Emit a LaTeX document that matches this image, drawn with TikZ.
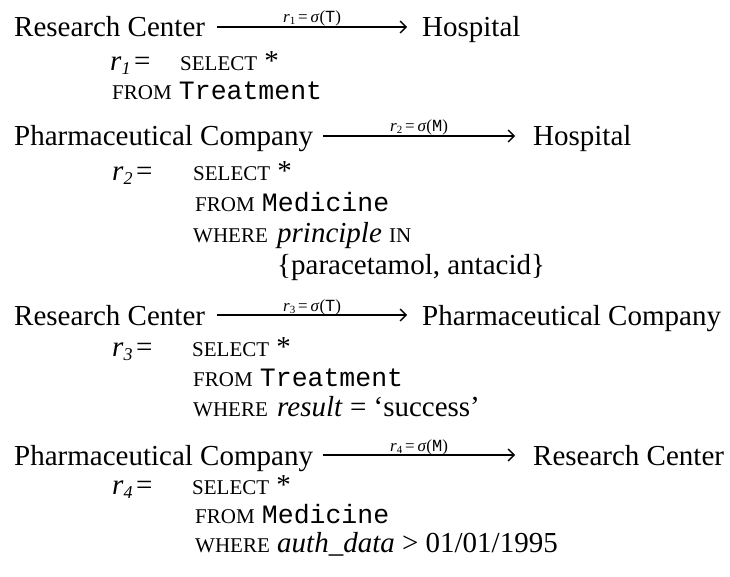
\documentclass[tikz,border=0pt]{standalone}
\usepackage{fontspec}
\setmainfont{Liberation Serif}
\newfontfamily\monof{Liberation Mono}
\usetikzlibrary{arrows.meta}
\newcommand\kw[1]{{\fontsize{21}{21}\selectfont #1}}
\newcommand\mono[1]{{\monof\fontsize{26.5}{26.5}\selectfont #1}}
\newcommand\rsub[1]{\textit{r}\raisebox{-4pt}{\fontsize{18}{18}\selectfont\textit{#1}}}
\newcommand\lab[2]{{\fontsize{17}{17}\selectfont\textit{r}\raisebox{-2pt}{\fontsize{11}{11}\selectfont #1}\,=\,\textit{σ}({\monof #2})}}
\begin{document}
\begin{tikzpicture}[x=1pt,y=-1pt,
  txt/.style={anchor=base west, inner sep=0pt, font=\fontsize{29}{29}\selectfont},
  conn/.style={line width=1.3pt, -{Straight Barb[length=6pt,width=12pt,line width=1.3pt]}},
  lbl/.style={anchor=base, inner sep=0pt, yshift=4pt}]
\useasboundingbox (0,0) rectangle (730,577);
% ---- block 1
\node[txt] (h1a) at (14,37) {Research Center};
\node[txt] (h1b) at (422,37) {Hospital};
\draw[conn] ([xshift=12pt,yshift=10pt]h1a.base east) -- node[lbl] (l1) {\lab{1}{T}} ([xshift=-15pt,yshift=10pt]h1b.base west);
\node[txt] (r1) at (110,71) {\rsub{1}};
\node[txt] (e1) at (134,71) {=};
\node[txt] (s1) at (180,71) {\kw{SELECT} *};
\node[txt] (f1) at (112,100) {\kw{FROM} \mono{Treatment}};
% ---- block 2
\node[txt] (h2a) at (14,146) {Pharmaceutical Company};
\node[txt] (h2b) at (533,146) {Hospital};
\draw[conn] ([xshift=10pt,yshift=10pt]h2a.base east) -- node[lbl] (l2) {\lab{2}{M}} ([xshift=-18pt,yshift=10pt]h2b.base west);
\node[txt] (r2) at (112,181) {\rsub{2}};
\node[txt] (e2) at (136,181) {=};
\node[txt] (s2) at (193,181) {\kw{SELECT} *};
\node[txt] (f2) at (195,212) {\kw{FROM} \mono{Medicine}};
\node[txt] (w2) at (193,243) {\kw{WHERE}};
\node[txt] (c2) at (277,243) {\textit{principle} \kw{IN}};
\node[txt] (v2) at (277,274) {\{paracetamol, antacid\}};
% ---- block 3
\node[txt] (h3a) at (14,325) {Research Center};
\node[txt] (h3b) at (422,325) {Pharmaceutical Company};
\draw[conn] ([xshift=12pt,yshift=10pt]h3a.base east) -- node[lbl] (l3) {\lab{3}{T}} ([xshift=-15pt,yshift=10pt]h3b.base west);
\node[txt] (r3) at (112,356) {\rsub{3}};
\node[txt] (e3) at (136,356) {=};
\node[txt] (s3) at (192,356) {\kw{SELECT} *};
\node[txt] (f3) at (193,386) {\kw{FROM} \mono{Treatment}};
\node[txt] (w3) at (193,416) {\kw{WHERE}};
\node[txt] (c3) at (277,416) {\textit{result} = ‘success’};
% ---- block 4
\node[txt] (h4a) at (14,465) {Pharmaceutical Company};
\node[txt] (h4b) at (533,465) {Research Center};
\draw[conn] ([xshift=10pt,yshift=10pt]h4a.base east) -- node[lbl] (l4) {\lab{4}{M}} ([xshift=-18pt,yshift=10pt]h4b.base west);
\node[txt] (r4) at (112,494) {\rsub{4}};
\node[txt] (e4) at (136,494) {=};
\node[txt] (s4) at (192,494) {\kw{SELECT} *};
\node[txt] (f4) at (195,523) {\kw{FROM} \mono{Medicine}};
\node[txt] (w4) at (195,552) {\kw{WHERE}};
\node[txt] (c4) at (277,552) {\textit{auth\_data} > 01/01/1995};
\end{tikzpicture}
\end{document}
